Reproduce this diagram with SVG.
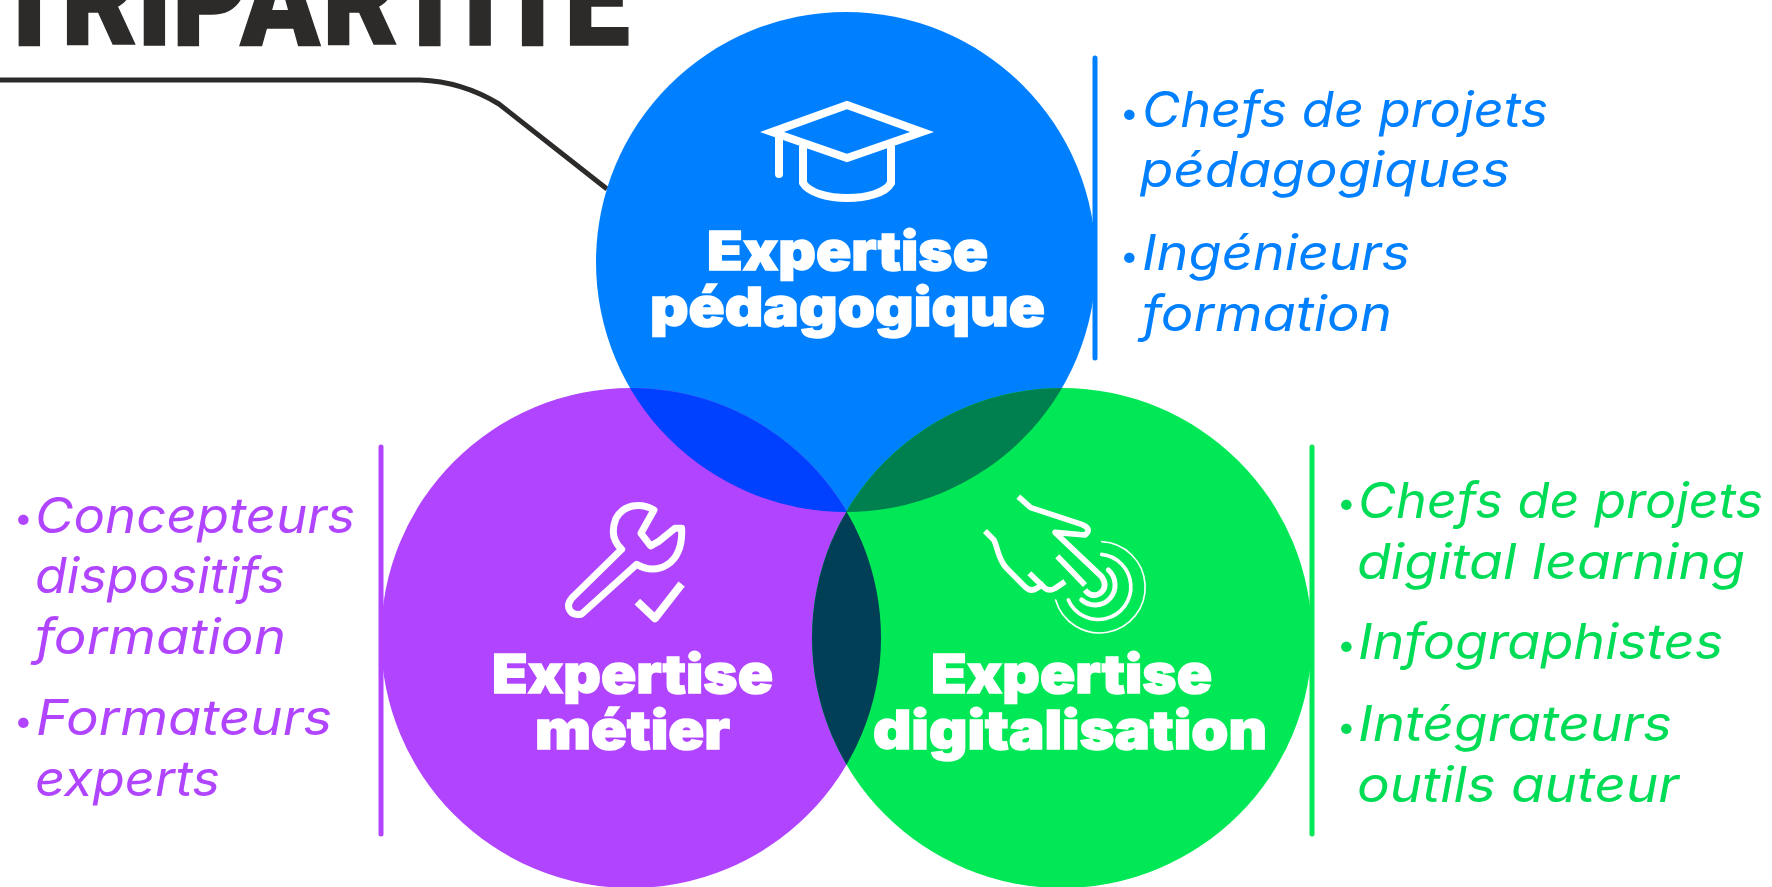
<svg xmlns="http://www.w3.org/2000/svg" width="1772" height="887" viewBox="0 0 1772 887">
<style>
.head{font-family:Inter,"Liberation Sans",sans-serif;font-weight:900;font-size:54px;fill:#fff;stroke:#fff;stroke-width:1.4}
.side{font-family:Inter,"Open Sans",sans-serif;font-style:italic;font-weight:400;font-size:49px}
.dot{font-style:normal;font-weight:700;font-size:62px}
.ic{fill:none;stroke:#fff;stroke-linejoin:round}
.blue{fill:#0080FF}.purple{fill:#B044FF}.green{fill:#00E855}
.bar{stroke-width:5;stroke-linecap:round}
</style>
<defs>
<clipPath id="cb"><circle cx="846" cy="262" r="250"/></clipPath>
<clipPath id="cg"><circle cx="1062" cy="638" r="250"/></clipPath>
</defs>
<rect width="1772" height="887" fill="#fff"/>
<text id="title" transform="scale(.9,1)" x="-8 68 152 191 267 358 437 514 551 627" y="45" font-family="Roboto,sans-serif" font-weight="900" font-size="130" fill="#2D2B2A" stroke="#2D2B2A" stroke-width="1.5">TRIPARTITE</text>
<g id="connectors">
<path d="M0,80 L420,80 C450,81 476,90 499,104 L607,189" fill="none" stroke="#2D2B2A" stroke-width="5"/>
</g>
<g id="node-pedagogique">
<circle class="blue" cx="846" cy="262" r="250"/>
<line class="bar" x1="1095" y1="58" x2="1095" y2="358" stroke="#0080FF"/>
</g>
<g id="node-metier">
<circle class="purple" cx="631" cy="638" r="250"/>
<line class="bar" x1="381" y1="447" x2="381" y2="834" stroke="#B044FF"/>
</g>
<g id="node-digitalisation">
<circle class="green" cx="1062" cy="638" r="250"/>
<line class="bar" x1="1312" y1="447" x2="1312" y2="834" stroke="#00E855"/>
</g>
<g id="overlaps">
<circle cx="631" cy="638" r="250" fill="#0040FF" clip-path="url(#cb)"/>
<circle cx="1062" cy="638" r="250" fill="#00804F" clip-path="url(#cb)"/>
<circle cx="631" cy="638" r="250" fill="#003F55" clip-path="url(#cg)"/>
</g>
<g id="label-pedagogique">
<g class="ic" stroke-width="8">
<path stroke-linejoin="miter" stroke-miterlimit="6" d="M847,105 L922,132 L847,158 L772,132 Z"/>
<path d="M779,136 V174" stroke-linecap="round"/>
<path d="M803,146 V183 C815,203 880,203 891,183 V146"/>
</g>
<text class="head" x="707" y="270" textLength="281" lengthAdjust="spacingAndGlyphs">Expertise</text>
<text class="head" x="650" y="326" textLength="395" lengthAdjust="spacingAndGlyphs">pédagogique</text>
<g class="side" fill="#0080FF">
<text x="1119" y="127"><tspan class="dot" dy="9">·</tspan><tspan x="1142" dy="-9" textLength="406" lengthAdjust="spacingAndGlyphs">Chefs de projets</tspan></text>
<text x="1140" y="187" textLength="370" lengthAdjust="spacingAndGlyphs">pédagogiques</text>
<text x="1119" y="270"><tspan class="dot" dy="9">·</tspan><tspan x="1142" dy="-9" textLength="268" lengthAdjust="spacingAndGlyphs">Ingénieurs</tspan></text>
<text x="1142" y="331" textLength="250" lengthAdjust="spacingAndGlyphs">formation</text>
</g>
</g>
<g id="label-metier">
<g transform="translate(480,470) scale(.3333)">
<path class="ic" stroke-width="21" d="M522,120 C480,95 430,105 408,145 C392,185 400,215 425,238 L275,385 C255,410 270,440 305,432 L470,283 C530,320 610,285 605,175 L585,175 L535,215 L512,228 L483,190 Z"/>
<path class="ic" stroke-width="24" d="M472,395 L525,445 L605,342"/>
</g>
<text class="head" x="492" y="693" textLength="281" lengthAdjust="spacingAndGlyphs">Expertise</text>
<text class="head" x="535" y="749" textLength="195" lengthAdjust="spacingAndGlyphs">métier</text>
<g class="side" fill="#B044FF">
<text x="13" y="533"><tspan class="dot" dy="8">·</tspan><tspan x="35" dy="-8" textLength="320" lengthAdjust="spacingAndGlyphs">Concepteurs</tspan></text>
<text x="35" y="593" textLength="250" lengthAdjust="spacingAndGlyphs">dispositifs</text>
<text x="35" y="654" textLength="251" lengthAdjust="spacingAndGlyphs">formation</text>
<text x="13" y="735"><tspan class="dot" dy="9">·</tspan><tspan x="36" dy="-9" textLength="296" lengthAdjust="spacingAndGlyphs">Formateurs</tspan></text>
<text x="35" y="796" textLength="185" lengthAdjust="spacingAndGlyphs">experts</text>
</g>
</g>
<g id="label-digitalisation">
<g class="ic" transform="translate(970,485) scale(.3333)">
<path stroke-width="17" d="M145,35 L182,68 L335,118 Q368,132 345,150 L255,142 L395,275 Q415,305 390,325 Q365,340 345,315"/>
<path stroke-width="17" d="M262,214 L345,300"/>
<path stroke-width="17" d="M178,265 L225,310 Q238,320 255,310 L285,290"/>
<path stroke-width="17" d="M45,138 L72,165 C85,195 85,225 110,250 L165,305 Q182,322 200,310 L222,296"/>
<g stroke-linecap="round">
<path stroke-width="5" d="M395,170 A137,137 0 1 1 257,345"/>
<path stroke-width="11" d="M395,208 A98,98 0 1 1 295,345"/>
<path stroke-width="15" d="M415,255 A60,60 0 1 1 335,345"/>
</g>
</g>
<text class="head" x="931" y="693" textLength="281" lengthAdjust="spacingAndGlyphs">Expertise</text>
<text class="head" x="873" y="749" textLength="394" lengthAdjust="spacingAndGlyphs">digitalisation</text>
<g class="side" fill="#00DC55">
<text x="1336" y="518"><tspan class="dot" dy="8">·</tspan><tspan x="1358" dy="-8" textLength="405" lengthAdjust="spacingAndGlyphs">Chefs de projets</tspan></text>
<text x="1357" y="579" textLength="388" lengthAdjust="spacingAndGlyphs">digital learning</text>
<text x="1336" y="659"><tspan class="dot" dy="9">·</tspan><tspan x="1358" dy="-9" textLength="365" lengthAdjust="spacingAndGlyphs">Infographistes</tspan></text>
<text x="1336" y="741"><tspan class="dot" dy="9">·</tspan><tspan x="1358" dy="-9" textLength="314" lengthAdjust="spacingAndGlyphs">Intégrateurs</tspan></text>
<text x="1357" y="802" textLength="322" lengthAdjust="spacingAndGlyphs">outils auteur</text>
</g>
</g>
</svg>
